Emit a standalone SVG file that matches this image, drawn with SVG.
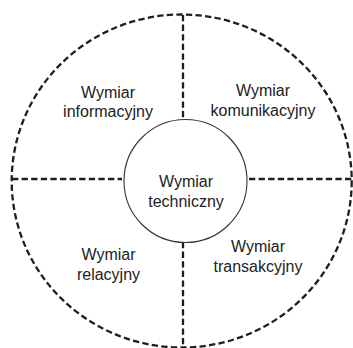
<svg xmlns="http://www.w3.org/2000/svg" width="353" height="348" viewBox="0 0 353 348">
<style>
.dash{fill:none;stroke:#1e1e1e;stroke-width:2.3;stroke-dasharray:6.3 3.3}
.solid{fill:#fff;stroke:#333;stroke-width:1.1}
.lbl{font-family:"Liberation Sans",Arial,sans-serif;font-size:16px;fill:#222;text-anchor:middle}
</style>
<rect width="353" height="348" fill="#fff"/>
<g id="outer">
<ellipse class="dash" cx="181.7" cy="181" rx="170" ry="166.5"/>
</g>
<g id="connectors">
<line class="dash" x1="183" y1="15" x2="183" y2="120"/>
<line class="dash" x1="183" y1="242" x2="183" y2="348"/>
<line class="dash" x1="12" y1="179" x2="122" y2="179"/>
<line class="dash" x1="249" y1="179" x2="352" y2="179"/>
</g>
<g id="informacyjny">
<text class="lbl" x="108" y="98">Wymiar</text>
<text class="lbl" x="108" y="117">informacyjny</text>
</g>
<g id="komunikacyjny">
<text class="lbl" x="263" y="96">Wymiar</text>
<text class="lbl" x="263" y="116">komunikacyjny</text>
</g>
<g id="techniczny">
<circle class="solid" cx="185.5" cy="181" r="61.5"/>
<text class="lbl" x="186" y="187">Wymiar</text>
<text class="lbl" x="186" y="207">techniczny</text>
</g>
<g id="relacyjny">
<text class="lbl" x="108.5" y="260">Wymiar</text>
<text class="lbl" x="108.5" y="280">relacyjny</text>
</g>
<g id="transakcyjny">
<text class="lbl" x="258" y="252">Wymiar</text>
<text class="lbl" x="258" y="272">transakcyjny</text>
</g>
</svg>
